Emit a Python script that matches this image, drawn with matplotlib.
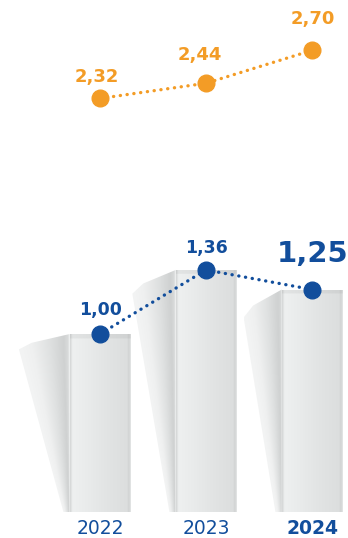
import numpy as np
import matplotlib
matplotlib.use('Agg')
import matplotlib.pyplot as plt
from matplotlib.patches import Polygon
from matplotlib.colors import LinearSegmentedColormap
import matplotlib.transforms as mtransforms

# ---- data ----
years = ['2022', '2023', '2024']
blue_values = [1.00, 1.36, 1.25]
orange_values = [2.32, 2.44, 2.70]
blue_labels = ['1,00', '1,36', '1,25']
orange_labels = ['2,32', '2,44', '2,70']

# ---- style ----
BLUE = '#124e9c'
ORANGE = '#f39c26'
W, H = 348, 538
PX_X, X0 = 106.0, 100.0      # px per category unit, px of first category
PX_Y, Y0 = 178.0, 26.0       # px per blue unit, px of baseline from bottom
OR_SLOPE, OR_INT = 126.5, 146.1
BAR_W = 0.57
side_top = [0.48, 0.41, 0.36]      # side-face width at top (x units)
side_bot = 0.06
side_drop = [11, 17, 20]           # px drop of side top-left corner
blue_off = [(0, 24), (0, 22), (1, 36)]     # px label offsets
orange_off = [(-3, 21), (-6, 28), (1, 31)]
blue_fs = [12.5, 12.5, 21]
DOTS = (0, (0.05, 2.0))

fig = plt.figure(figsize=(W / 100, H / 100), dpi=100)
ax = fig.add_axes([0, 0, 1, 1])
ax.set_xlim(-X0 / PX_X, (W - X0) / PX_X)
ax.set_ylim(-Y0 / PX_Y, (H - Y0) / PX_Y)
ax.axis('off')

x = np.arange(len(years))

front_cmap = LinearSegmentedColormap.from_list(
    'front', [(0, '#d4d6d6'), (0.04, '#eef0f0'), (0.25, '#eaecec'),
              (0.6, '#e2e4e4'), (0.94, '#dcdede'), (0.97, '#d0d2d2'), (1, '#e4e6e6')])
side_cmap = LinearSegmentedColormap.from_list(
    'side', [(0, '#f3f4f4'), (0.25, '#eff0f0'), (0.6, '#dfe1e1'),
             (0.88, '#cfd1d1'), (0.96, '#d8dada'), (1, '#eceeee')])

bars = ax.bar(x, blue_values, width=BAR_W, bottom=0, color='none',
              edgecolor='none', zorder=3)

for i, (b, v) in enumerate(zip(bars, blue_values)):
    xl = b.get_x()
    xr = xl + b.get_width()
    # side face
    drop = side_drop[i] / PX_Y
    vt = v - drop
    poly = Polygon([(xl, v), (xl - side_top[i] * 0.75, vt + 0.2 * drop),
                    (xl - side_top[i], vt - 0.4 * drop),
                    (xl - side_bot, 0), (xl, 0)],
                   closed=True, facecolor='none', edgecolor='none')
    ax.add_patch(poly)
    gx = np.linspace(xl - side_top[i], xl, 200)
    gy = np.linspace(0, v, 200)
    GX, GY = np.meshgrid(gx, gy)
    xle = xl - side_bot - (side_top[i] - side_bot) * np.clip(GY / vt, 0, 1)
    u = np.clip((GX - xle) / (xl - xle + 1e-9), 0, 1)
    im = ax.imshow(side_cmap(u), extent=(xl - side_top[i], xl, 0, v),
                   origin='lower', aspect='auto', zorder=2, interpolation='bilinear')
    im.set_clip_path(poly)
    # front face
    fu = np.tile(np.linspace(0, 1, 200), (200, 1))
    rgba = front_cmap(fu)
    rows = np.linspace(0, 1, 200)
    top_mask = rows > 1 - 4 / (v * PX_Y)
    rgba[top_mask, :, :3] *= 0.95
    im2 = ax.imshow(rgba, extent=(xl, xr, 0, v), origin='lower',
                    aspect='auto', zorder=3, interpolation='bilinear')
    im2.set_clip_path(b)

ax.set_xlim(-X0 / PX_X, (W - X0) / PX_X)
ax.set_ylim(-Y0 / PX_Y, (H - Y0) / PX_Y)

# blue line
ax.plot(x, blue_values, color=BLUE, lw=2.4, linestyle=DOTS,
        dash_capstyle='round', zorder=5)
ax.plot(x, blue_values, 'o', color=BLUE, ms=12, zorder=6)
for i, (v, lab) in enumerate(zip(blue_values, blue_labels)):
    ax.annotate(lab, (x[i], v), xytext=(blue_off[i][0] * 0.72, blue_off[i][1] * 0.72),
                textcoords='offset points', ha='center', va='center',
                color=BLUE, fontsize=blue_fs[i], fontweight='bold',
                family='DejaVu Sans', zorder=7)

# orange line on its own scale
ax2 = fig.add_axes([0, 0, 1, 1], sharex=ax)
ax2.patch.set_alpha(0)
ax2.set_ylim(-OR_INT / OR_SLOPE, (H - OR_INT) / OR_SLOPE)
ax2.axis('off')
ax2.plot(x, orange_values, color=ORANGE, lw=2.4, linestyle=DOTS,
         dash_capstyle='round', zorder=5)
ax2.plot(x, orange_values, 'o', color=ORANGE, ms=12, zorder=6)
for i, (v, lab) in enumerate(zip(orange_values, orange_labels)):
    ax2.annotate(lab, (x[i], v), xytext=(orange_off[i][0] * 0.72, orange_off[i][1] * 0.72),
                 textcoords='offset points', ha='center', va='center',
                 color=ORANGE, fontsize=13, fontweight='bold',
                 family='DejaVu Sans', zorder=7)

# year labels
trans = mtransforms.blended_transform_factory(ax.transData, fig.transFigure)
for i, yr in enumerate(years):
    ax.text(x[i], 10 / H, yr, transform=trans, ha='center', va='center',
            color=BLUE, fontsize=13.5,
            fontweight='bold' if i == len(years) - 1 else 'normal',
            family='DejaVu Sans')

fig.savefig('out.png', dpi=100)
